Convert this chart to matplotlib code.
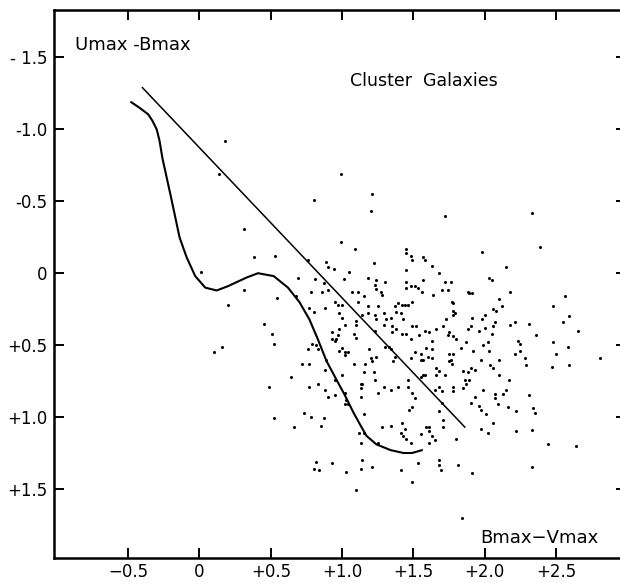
import matplotlib
matplotlib.use("Agg")
import matplotlib.pyplot as plt

# B-V (x) and U-B (y) colours of the cluster galaxies
bv = [0.18, 0.14, 0.01, 0.99, 0.80, 1.21, 1.20, 1.72, 2.33, 0.10, 0.16, 0.20,
      0.31, 0.99, 1.09, 0.38, 0.53, 1.45, 1.45, 1.48, 1.49, 1.57,
      1.58, 0.76, 0.89, 0.90, 0.94, 1.22, 1.05, 1.45, 0.69, 0.81,
      1.01, 1.18, 1.24, 1.30, 1.45, 1.57, 1.23, 1.24, 1.27, 1.28,
      1.45, 1.48, 1.51, 1.53, 1.56, 0.31, 0.54, 0.68, 0.78, 0.86,
      0.90, 0.87, 1.07, 1.11, 1.15, 0.95, 0.97, 1.00, 1.11, 1.18,
      1.25, 0.77, 0.80, 0.88, 0.98, 1.14, 1.18, 1.23, 1.29, 1.34,
      1.37, 1.39, 1.42, 1.44, 1.46, 1.49, 1.38, 1.41, 1.00, 1.02,
      1.10, 1.10, 1.24, 1.31, 1.29, 1.35, 1.43, 1.49, 1.52, 0.45,
      0.51, 0.93, 0.97, 0.98, 1.08, 1.23, 1.35, 1.38, 1.42, 1.45,
      1.54, 1.58, 1.61,
      1.98, 2.39, 1.63, 1.68, 2.15, 2.03, 2.05, 1.72, 1.76, 1.70,
      1.74, 1.64, 1.88, 1.89, 1.91, 2.18, 2.10, 2.56, 1.77, 1.78,
      2.12, 2.48, 2.06, 2.08, 1.78, 1.79, 1.78, 2.00, 1.91, 1.98,
      1.73, 2.59, 2.55, 2.07, 2.21, 2.18, 2.31, 1.90, 1.88, 2.00,
      2.06, 1.96, 1.71, 1.66, 1.75, 1.74, 1.78, 1.80, 1.63, 2.05,
      2.36, 2.65, 2.23,
      0.52, 0.93, 0.95, 0.96, 1.10, 0.79, 0.82, 0.83, 0.76, 1.00,
      0.98, 1.02, 1.04, 1.02, 1.19, 1.30, 1.33, 1.34, 1.24, 1.20,
      1.21, 1.48, 1.51, 1.55, 1.59, 1.60, 1.57, 1.55, 1.48, 1.37,
      1.36, 0.72, 0.77, 0.89, 0.88, 1.00, 1.08, 1.16, 1.15, 1.22,
      1.23, 0.64, 0.49, 0.77, 0.83, 0.88, 0.90, 0.95, 0.95, 1.02,
      1.13, 1.14, 1.13, 1.13, 1.25, 1.29, 1.34, 1.39, 1.46, 1.46,
      1.49, 1.51, 1.57, 1.58, 1.55, 1.49, 1.47, 1.03, 1.02, 1.04,
      1.15, 0.73, 0.78, 0.87, 0.52, 0.66, 0.85, 1.28, 1.34, 1.42,
      1.44, 1.41, 1.43, 1.45, 1.48, 1.55, 1.59, 1.61, 1.12, 1.15,
      1.13, 1.25, 1.61,
      1.87, 1.63, 1.83, 1.92, 1.99, 2.02, 2.03, 1.75, 1.78, 1.76,
      1.75, 1.77, 1.63, 1.66, 1.68, 1.66, 1.72, 1.85, 1.88, 1.90,
      1.93, 1.86, 1.89, 1.87, 1.97, 2.04, 2.06, 2.10, 2.10, 2.17,
      2.21, 2.25, 2.25, 2.28, 2.29, 2.48, 2.58, 2.50, 2.47, 2.59,
      2.81, 1.68, 1.65, 1.78, 1.78, 1.70, 1.85, 1.99, 1.93, 1.90,
      1.96, 1.97, 2.07, 2.07, 2.13, 2.15, 2.09, 2.16, 2.01, 2.06,
      2.22, 2.31, 2.34, 2.35, 1.68, 1.71, 1.71, 1.61, 1.63, 1.65,
      1.80, 1.97, 2.02, 2.22, 2.33, 2.44, 2.64, 1.70,
      0.82, 0.93, 0.80, 0.84, 1.03, 1.14, 1.13, 1.21, 1.41, 1.53,
      1.49, 1.10, 1.68, 1.68, 1.69, 1.81, 1.91, 2.33, 1.84]

ub = [-0.92, -0.69, -0.01, -0.69, -0.51, -0.55, -0.43, -0.40, -0.42, 0.55, 0.51, 0.22,
      -0.31, -0.22, -0.17, -0.11, -0.12, -0.17, -0.14, -0.12, -0.09, -0.11,
      -0.09, -0.09, -0.08, -0.04, -0.03, -0.07, -0.01, -0.02, 0.03, 0.04,
      0.04, 0.03, 0.05, 0.06, 0.06, 0.05, 0.08, 0.11, 0.13, 0.15,
      0.10, 0.09, 0.09, 0.10, 0.13, 0.12, 0.17, 0.16, 0.13, 0.13,
      0.12, 0.07, 0.13, 0.13, 0.16, 0.20, 0.22, 0.22, 0.20, 0.23,
      0.23, 0.24, 0.27, 0.24, 0.28, 0.29, 0.28, 0.29, 0.28, 0.31,
      0.23, 0.21, 0.22, 0.22, 0.22, 0.20, 0.27, 0.28, 0.31, 0.36,
      0.33, 0.36, 0.32, 0.32, 0.36, 0.37, 0.32, 0.37, 0.37, 0.35,
      0.42, 0.41, 0.43, 0.39, 0.42, 0.40, 0.41, 0.39, 0.42, 0.42,
      0.43, 0.40, 0.41,
      -0.15, -0.18, -0.05, 0.00, -0.04, 0.03, 0.05, 0.06, 0.06, 0.12,
      0.12, 0.15, 0.13, 0.14, 0.14, 0.13, 0.18, 0.16, 0.20, 0.21,
      0.23, 0.23, 0.25, 0.26, 0.26, 0.28, 0.29, 0.29, 0.31, 0.32,
      0.32, 0.30, 0.34, 0.34, 0.34, 0.36, 0.35, 0.37, 0.39, 0.38,
      0.37, 0.40, 0.37, 0.39, 0.41, 0.43, 0.44, 0.46, 0.47, 0.42,
      0.43, 0.40, 0.47,
      0.49, 0.46, 0.47, 0.46, 0.45, 0.49, 0.50, 0.53, 0.53, 0.52,
      0.54, 0.55, 0.55, 0.57, 0.53, 0.51, 0.51, 0.53, 0.58, 0.59,
      0.61, 0.46, 0.55, 0.56, 0.52, 0.58, 0.60, 0.60, 0.59, 0.58,
      0.61, 0.63, 0.63, 0.60, 0.67, 0.71, 0.63, 0.63, 0.69, 0.69,
      0.74, 0.72, 0.79, 0.79, 0.77, 0.81, 0.86, 0.85, 0.74, 0.83,
      0.77, 0.77, 0.80, 0.86, 0.83, 0.79, 0.81, 0.79, 0.79, 0.74,
      0.83, 0.87, 0.71, 0.71, 0.72, 0.93, 0.95, 0.88, 0.91, 0.91,
      0.98, 0.97, 1.00, 1.01, 1.01, 1.07, 1.06, 1.07, 1.06, 1.04,
      1.08, 1.11, 1.13, 1.15, 1.18, 1.12, 1.07, 1.10, 1.11, 1.11,
      1.18, 1.18, 1.18,
      0.48, 0.53, 0.52, 0.54, 0.50, 0.48, 0.54, 0.56, 0.56, 0.60,
      0.61, 0.63, 0.59, 0.66, 0.68, 0.71, 0.71, 0.68, 0.69, 0.66,
      0.67, 0.74, 0.74, 0.77, 0.60, 0.64, 0.66, 0.60, 0.71, 0.74,
      0.56, 0.49, 0.54, 0.59, 0.64, 0.48, 0.51, 0.56, 0.65, 0.64,
      0.59, 0.79, 0.81, 0.79, 0.82, 0.82, 0.80, 0.81, 0.86, 0.90,
      0.92, 0.95, 0.84, 0.87, 0.84, 0.81, 0.91, 0.93, 0.98, 1.04,
      0.96, 0.85, 0.94, 0.97, 0.96, 1.02, 1.07, 1.07, 1.13, 1.16,
      1.15, 1.08, 1.11, 1.10, 1.09, 1.19, 1.20, 0.90,
      1.31, 1.32, 1.36, 1.37, 1.38, 1.30, 1.36, 1.35, 1.37, 1.32,
      1.45, 1.51, 1.30, 1.33, 1.37, 1.33, 1.39, 1.35, 1.70]

# hand-drawn sequence curve and the straight reference line
curve_bv = [-0.48, -0.42, -0.36, -0.33, -0.30, -0.28, -0.26, -0.23, -0.20, -0.17,
            -0.14, -0.09, -0.03, 0.04, 0.12, 0.20, 0.33, 0.41, 0.52, 0.62,
            0.70, 0.77, 0.83, 0.89, 0.96, 1.02, 1.08, 1.13, 1.17, 1.24,
            1.34, 1.43, 1.49, 1.56]
curve_ub = [-1.19, -1.15, -1.105, -1.06, -1.00, -0.92, -0.80, -0.665, -0.53, -0.39,
            -0.25, -0.11, 0.02, 0.10, 0.12, 0.09, 0.03, 0.00, 0.02, 0.10,
            0.20, 0.32, 0.46, 0.61, 0.74, 0.85, 0.97, 1.06, 1.13, 1.19,
            1.23, 1.25, 1.25, 1.23]
line_bv = [-0.40, 1.86]
line_ub = [-1.29, 1.07]

xticks = [-0.5, 0, 0.5, 1.0, 1.5, 2.0, 2.5]
xtick_labels = ["\u22120.5", "0", "+0.5", "+1.0", "+1.5", "+2.0", "+2.5"]
yticks = [-1.5, -1.0, -0.5, 0, 0.5, 1.0, 1.5]
ytick_labels = ["- 1.5", "-1.0", "-0.5", "0", "+0.5", "+1.0", "+1.5"]

fig = plt.figure(figsize=(6.2, 5.84), dpi=100)
ax = fig.add_axes([54 / 620, 26 / 584, 572 / 620, 548 / 584])

ax.plot(bv, ub, "o", color="black", ms=2.2, mew=0)
ax.plot(curve_bv, curve_ub, color="black", lw=1.5, solid_capstyle="round",
        solid_joinstyle="round")
ax.plot(line_bv, line_ub, color="black", lw=1.1)

ax.set_xlim(-1.02, 2.99)
ax.set_ylim(1.98, -1.83)

ax.set_xticks(xticks)
ax.set_xticklabels(xtick_labels)
ax.set_yticks(yticks)
ax.set_yticklabels(ytick_labels)
ax.tick_params(direction="in", length=7, width=1.4, top=True, right=True,
               labelsize=12, pad=5)
ax.tick_params(axis="x", pad=3.5)
for s in ax.spines.values():
    s.set_linewidth(1.8)

ax.text(0.037, 0.936, "Umax -Bmax", transform=ax.transAxes, fontsize=13,
        ha="left", va="center")
ax.text(0.646, 0.870, "Cluster  Galaxies", transform=ax.transAxes, fontsize=12.5,
        ha="center", va="center")
ax.text(0.745, 0.036, "Bmax\u2212Vmax", transform=ax.transAxes, fontsize=13,
        ha="left", va="center")

fig.savefig("out.png", dpi=100)
